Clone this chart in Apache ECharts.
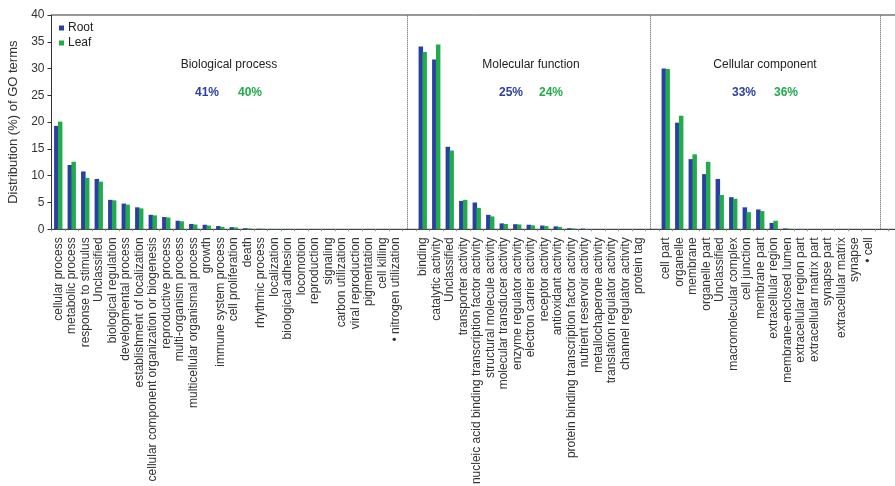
<!DOCTYPE html>
<html>
<head>
<meta charset="utf-8">
<script src="https://cdn.jsdelivr.net/npm/echarts@6/dist/echarts.min.js"></script>
<style>
  html, body { margin: 0; padding: 0; background: #fff; }
  #chart { width: 895px; height: 486px; }
</style>
</head>
<body>
<div id="chart"></div>
<script>
// GO term distribution (%) for Root and Leaf, grouped by ontology

const bioCategories = [
  'cellular process', 'metabolic process', 'response to stimulus', 'Unclassified',
  'biological regulation', 'developmental process', 'establishment of localization',
  'cellular component organization or biogenesis', 'reproductive process',
  'multi-organism process', 'multicellular organismal process', 'growth',
  'immune system process', 'cell proliferation', 'death', 'rhythmic process',
  'localization', 'biological adhesion', 'locomotion', 'reproduction', 'signaling',
  'carbon utilization', 'viral reproduction', 'pigmentation', 'cell killing',
  '• nitrogen utilization'
];
const bioRoot = [19.3, 12.0, 10.8, 9.4, 5.5, 4.8, 4.1, 2.7, 2.3, 1.6, 1.0, 0.85, 0.6, 0.4, 0.2, 0.1,
  0.05, 0.05, 0.03, 0.03, 0.02, 0.02, 0.01, 0.01, 0.01, 0.01];
const bioLeaf = [20.1, 12.6, 9.6, 8.9, 5.4, 4.6, 3.9, 2.6, 2.2, 1.5, 0.9, 0.7, 0.45, 0.35, 0.15, 0.1,
  0.05, 0.04, 0.03, 0.02, 0.02, 0.01, 0.01, 0.01, 0, 0];

const molCategories = [
  'binding', 'catalytic activity', 'Unclassified', 'transporter activity',
  'nucleic acid binding transcription factor activity', 'structural molecule activity',
  'molecular transducer activity', 'enzyme regulator activity', 'electron carrier activity',
  'receptor activity', 'antioxidant activity', 'protein binding transcription factor activity',
  'nutrient reservoir activity', 'metallochaperone activity', 'translation regulator activity',
  'channel regulator activity', 'protein tag'
];
const molRoot = [34.1, 31.7, 15.4, 5.3, 5.0, 2.7, 1.1, 0.95, 0.85, 0.7, 0.55, 0.2, 0.12, 0.05, 0.03, 0.02, 0.01];
const molLeaf = [33.1, 34.5, 14.7, 5.5, 4.0, 2.4, 1.0, 0.9, 0.75, 0.6, 0.45, 0.15, 0.06, 0.03, 0.02, 0.01, 0];

const cellCategories = [
  'cell part', 'organelle', 'membrane', 'organelle part', 'Unclassified',
  'macromolecular complex', 'cell junction', 'membrane part', 'extracellular region',
  'membrane-enclosed lumen', 'extracellular region part', 'extracellular matrix part',
  'synapse part', 'extracellular matrix', 'synapse', '• cell'
];
const cellRoot = [30.0, 19.9, 13.1, 10.3, 9.4, 6.0, 4.1, 3.7, 1.2, 0.15, 0.05, 0.03, 0.02, 0.02, 0.01, 0.01];
const cellLeaf = [29.9, 21.2, 14.0, 12.6, 6.4, 5.7, 3.2, 3.4, 1.6, 0.1, 0.05, 0.02, 0.01, 0.01, 0.01, 0];

const sectionTitles = ['Biological process', 'Molecular function', 'Cellular component'];
const rootShares = ['41%', '25%', '33%'];
const leafShares = ['40%', '24%', '36%'];

const ROOT_COLOR = '#2a3fa3';
const LEAF_COLOR = '#22ab4c';
const FONT = '"Liberation Sans", Arial, sans-serif';

// One empty slot separates the groups; the panel continues past the right edge
const categories = [].concat(bioCategories, [' '], molCategories, ['  '],
  cellCategories, ['   '], ['    ', '     ']);
const rootData = [].concat(bioRoot, [null], molRoot, [null], cellRoot, [null], [null, null]);
const leafData = [].concat(bioLeaf, [null], molLeaf, [null], cellLeaf, [null], [null, null]);

const sep1 = bioCategories.length;
const sep2 = sep1 + 1 + molCategories.length;
const sep3 = sep2 + 1 + cellCategories.length;

const BAND = 13.5;
const GRID_LEFT = 51.5;
const GRID_TOP = 15;
const GRID_BOTTOM_Y = 229.3;

const chart = echarts.init(document.getElementById('chart'), null, { renderer: 'canvas' });

function sectionText(x, y, text, color, bold) {
  return {
    type: 'text', x: x, y: y,
    style: {
      text: text, fill: color, font: (bold ? 'bold ' : '') + '12px ' + FONT,
      align: 'center', verticalAlign: 'middle'
    }
  };
}

const titleX = [229, 531, 765];
const rootX = [207, 511, 744];
const leafX = [250, 551, 786];
const graphics = [];
for (let i = 0; i < 3; i++) {
  graphics.push(sectionText(titleX[i], 65, sectionTitles[i], '#222', false));
  graphics.push(sectionText(rootX[i], 93, rootShares[i], ROOT_COLOR, true));
  graphics.push(sectionText(leafX[i], 93, leafShares[i], LEAF_COLOR, true));
}

chart.setOption({
  animation: false,
  backgroundColor: '#fff',
  textStyle: { fontFamily: FONT },
  grid: {
    left: GRID_LEFT, top: GRID_TOP,
    width: BAND * categories.length,
    height: GRID_BOTTOM_Y - GRID_TOP,
    outerBoundsMode: 'none',
    containLabel: false,
    show: true, borderColor: '#333', borderWidth: 1, backgroundColor: 'transparent'
  },
  legend: {
    orient: 'vertical', left: 59, top: 22, padding: 0,
    itemWidth: 5, itemHeight: 5, itemGap: 3,
    icon: 'rect',
    textStyle: { fontSize: 12, color: '#222', fontFamily: FONT, padding: [0, 0, 0, -1] },
    data: ['Root', 'Leaf']
  },
  xAxis: {
    type: 'category',
    data: categories,
    axisLine: { lineStyle: { color: '#444', width: 1.2 } },
    axisTick: { show: true, interval: 0, length: 2, lineStyle: { color: '#999' } },
    axisLabel: {
      interval: 0, rotate: 90, fontSize: 12, color: '#333', margin: 8, fontFamily: FONT
    }
  },
  yAxis: {
    type: 'value',
    min: 0, max: 40, interval: 5,
    name: 'Distribution (%) of GO terms',
    nameLocation: 'middle', nameGap: 31,
    nameTextStyle: { fontSize: 13, color: '#333', fontFamily: FONT },
    axisLine: { show: true, lineStyle: { color: '#333', width: 1 } },
    axisTick: { show: true, length: 4, lineStyle: { color: '#333' } },
    axisLabel: { fontSize: 12, color: '#333', margin: 7, fontFamily: FONT },
    splitLine: { show: false }
  },
  series: [
    {
      name: 'Root', type: 'bar', data: rootData,
      barWidth: 4.5, barGap: '-15%',
      itemStyle: { color: ROOT_COLOR },
      markLine: {
        silent: true, symbol: 'none',
        label: { show: false },
        lineStyle: { color: '#555', type: 'dotted', width: 1 },
        data: [{ xAxis: sep1 }, { xAxis: sep2 }, { xAxis: sep3 }]
      }
    },
    {
      name: 'Leaf', type: 'bar', data: leafData,
      barWidth: 4.5,
      itemStyle: { color: LEAF_COLOR }
    }
  ],
  graphic: graphics
});
</script>
</body>
</html>
